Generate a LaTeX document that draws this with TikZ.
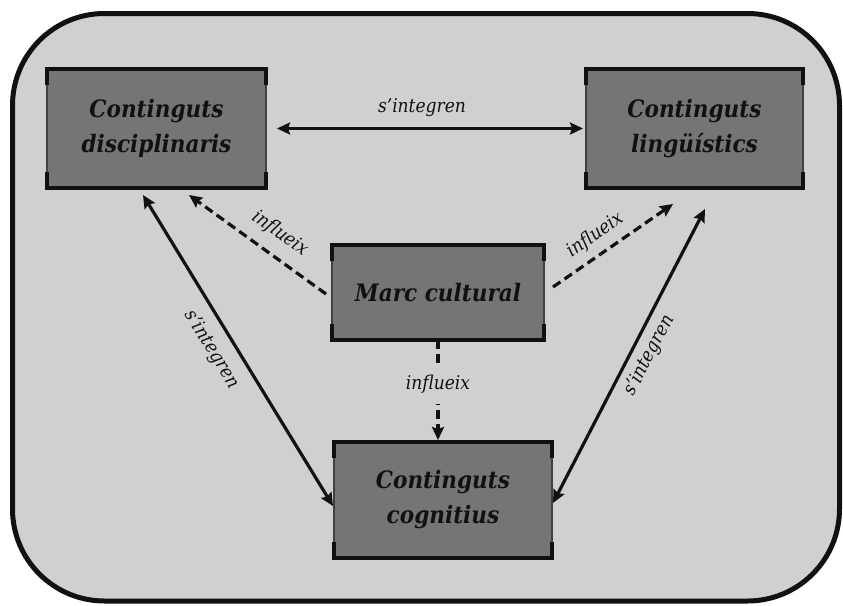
\documentclass[tikz,border=0pt]{standalone}
\usepackage{fontspec}
\setmainfont{DejaVu Serif Condensed}
\usetikzlibrary{arrows.meta,calc}
\definecolor{panel}{RGB}{208,208,208}
\definecolor{boxfill}{RGB}{117,117,117}
\definecolor{ink}{RGB}{17,17,17}
\begin{document}
\begin{tikzpicture}[x=1pt,y=-1pt,
  >={Stealth[length=13pt,width=12pt,inset=2pt]},
  topic/.style={draw=ink!80, line width=1.8pt, fill=boxfill, outer sep=0pt,
    inner sep=0pt, align=center, text=ink,
    font=\fontsize{24}{35}\selectfont\bfseries\itshape},
  link/.style={draw=ink, line width=3.2pt},
  influence/.style={link, dash pattern=on 9pt off 5pt},
  lbl/.style={font=\fontsize{19}{24}\selectfont\itshape, text=ink, inner sep=0pt}]

% page and rounded panel
\useasboundingbox (0,0) rectangle (843,605);
\fill[white] (0,0) rectangle (843,605);
\draw[fill=panel, draw=ink, line width=5pt, rounded corners=92pt]
  (12.5,13.5) rectangle (839.5,601);

% boxes
\node[topic, minimum width=219pt, minimum height=119pt] (disc) at (156.5,128.5)
  {Continguts\\disciplinaris};
\node[topic, minimum width=217pt, minimum height=119pt] (ling) at (694.5,128.5)
  {Continguts\\lingüístics};
\node[topic, minimum width=212pt, minimum height=95pt] (marc) at (438,292.5)
  {Marc cultural};
\node[topic, minimum width=218pt, minimum height=116pt] (cogn) at (443,500)
  {Continguts\\cognitius};

% heavier top and bottom edges with corner ticks
\foreach \n in {disc,ling,marc,cogn}{
  \draw[ink, line width=3.8pt, line cap=rect] (\n.north west) -- (\n.north east);
  \draw[ink, line width=3.8pt, line cap=rect] (\n.south west) -- (\n.south east);
  \draw[ink, line width=3.2pt] (\n.north west) -- ++(0,16);
  \draw[ink, line width=3.2pt] (\n.north east) -- ++(0,16);
  \draw[ink, line width=3.2pt] (\n.south west) -- ++(0,-16);
  \draw[ink, line width=3.2pt] (\n.south east) -- ++(0,-16);
}

% anchor points for the connectors
\coordinate (dL) at ($(disc.south)+(-13.5,7)$);
\coordinate (cL) at ($(cogn.west)+(-1,6)$);
\coordinate (lR) at ($(ling.south)+(10.5,21)$);
\coordinate (cR) at ($(cogn.east)+(1,3)$);
\coordinate (mL) at ($(marc.west)+(-6,1.5)$);
\coordinate (dM) at ($(disc.south)+(32.5,7)$);
\coordinate (mR) at ($(marc.east)+(9,-5.5)$);
\coordinate (lM) at ($(ling.south)+(-21.5,16)$);

% s'integren links
\draw[link, <->, shorten <=11pt, shorten >=3pt] (disc.east) -- (ling.west)
  node[lbl, midway, yshift=21pt, xshift=-4pt] {s’integren};
\draw[link, <->] (dL) -- (cL)
  node[lbl, pos=0.46, sloped, yshift=-22pt] {s’integren};
\draw[link, <->] (cR) -- (lR)
  node[lbl, pos=0.53, sloped, yshift=-18pt] {s’integren};

% influeix links
\draw[influence, ->] (mL) -- (dM);
\path (dM) -- (mL) node[lbl, pos=0.57, sloped, yshift=22pt] {influeix};
\draw[influence, ->] (mR) -- (lM)
  node[lbl, pos=0.44, sloped, yshift=19pt] {influeix};
\draw[influence, ->, shorten >=2pt] (marc.south) -- (marc.south |- cogn.north)
  node[lbl, pos=0.43, fill=panel, inner ysep=11pt, inner xsep=3pt] {influeix};
\end{tikzpicture}
\end{document}
